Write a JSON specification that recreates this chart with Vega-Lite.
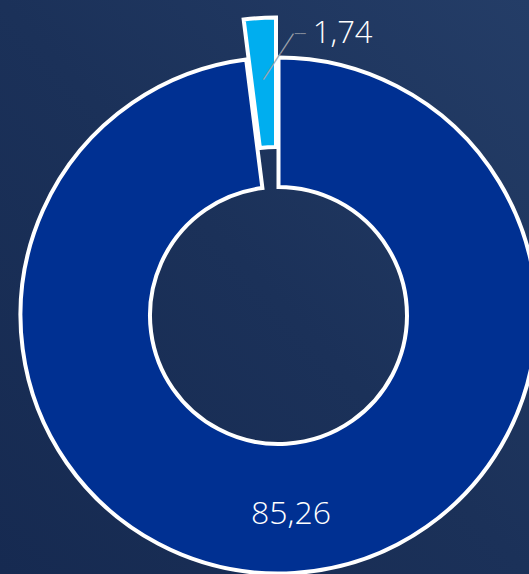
{
  "$schema": "https://vega.github.io/schema/vega-lite/v6.json",
  "width": 529,
  "height": 574,
  "autosize": "none",
  "padding": 0,
  "background": "#1b3059",
  "config": {
    "view": {"stroke": null},
    "locale": {"number": {"decimal": ",", "thousands": ".", "grouping": [3], "currency": ["", ""]}}
  },
  "data": {"values": [
    {"k": "Outros", "v": 85.26, "i": 1},
    {"k": "Destaque", "v": 1.74, "i": 2}
  ]},
  "layer": [
    {
      "transform": [{"filter": "datum.i == 1"}],
      "mark": {"type": "rect", "color": {"gradient": "linear", "x1": 0, "y1": 1, "x2": 1, "y2": 0,
        "stops": [{"offset": 0, "color": "#162a51"}, {"offset": 0.5, "color": "#1b3159"}, {"offset": 1, "color": "#243d67"}]}},
      "encoding": {}
    },
    {
      "mark": {"type": "arc", "radius": 258, "radius2": 128.5, "stroke": "white", "strokeWidth": 4, "xOffset": 14, "yOffset": 28.5},
      "encoding": {
        "theta": {"field": "v", "type": "quantitative", "stack": true},
        "order": {"field": "i"},
        "color": {"field": "k", "type": "nominal", "scale": {"domain": ["Outros", "Destaque"], "range": ["#003092", "#00aeef"]}, "legend": null},
        "opacity": {"condition": {"test": "datum.i == 1", "value": 1}, "value": 0}
      }
    },
    {
      "mark": {"type": "arc", "radius": 258, "radius2": 128.5, "stroke": "white", "strokeWidth": 4, "xOffset": 11.5, "yOffset": -11.5},
      "encoding": {
        "theta": {"field": "v", "type": "quantitative", "stack": true},
        "order": {"field": "i"},
        "color": {"field": "k", "type": "nominal", "scale": {"domain": ["Outros", "Destaque"], "range": ["#003092", "#00aeef"]}, "legend": null},
        "opacity": {"condition": {"test": "datum.i == 2", "value": 1}, "value": 0}
      }
    },
    {
      "mark": {"type": "text", "radius": 198.5, "xOffset": 14, "yOffset": 28.5, "font": "Open Sans", "fontSize": 32, "fontWeight": 300, "color": "white"},
      "encoding": {
        "theta": {"field": "v", "type": "quantitative", "stack": true},
        "order": {"field": "i"},
        "text": {"field": "v", "type": "quantitative", "format": ".2f"},
        "opacity": {"condition": {"test": "datum.i == 1", "value": 1}, "value": 0}
      }
    },
    {
      "mark": {"type": "text", "radius": 196, "xOffset": 11.5, "yOffset": -11.5, "align": "left", "baseline": "middle", "angle": -56.9, "font": "DejaVu Sans Mono", "fontSize": 13, "color": "#a0a4ab"},
      "encoding": {
        "theta": {"field": "v", "type": "quantitative", "stack": true},
        "order": {"field": "i"},
        "text": {"value": "───────"},
        "opacity": {"condition": {"test": "datum.i == 2", "value": 1}, "value": 0}
      }
    },
    {
      "mark": {"type": "text", "radius": 242, "xOffset": 11.5, "yOffset": -11.5, "dx": 34, "align": "left", "baseline": "middle", "font": "DejaVu Sans Mono", "fontSize": 9, "color": "#a0a4ab"},
      "encoding": {
        "theta": {"field": "v", "type": "quantitative", "stack": true},
        "order": {"field": "i"},
        "text": {"value": "──"},
        "opacity": {"condition": {"test": "datum.i == 2", "value": 1}, "value": 0}
      }
    },
    {
      "mark": {"type": "text", "radius": 242, "xOffset": 11.5, "yOffset": -11.5, "dx": 52, "align": "left", "baseline": "middle", "font": "Open Sans", "fontSize": 31, "fontWeight": 300, "color": "white"},
      "encoding": {
        "theta": {"field": "v", "type": "quantitative", "stack": true},
        "order": {"field": "i"},
        "text": {"field": "v", "type": "quantitative", "format": ".2f"},
        "opacity": {"condition": {"test": "datum.i == 2", "value": 1}, "value": 0}
      }
    }
  ]
}
